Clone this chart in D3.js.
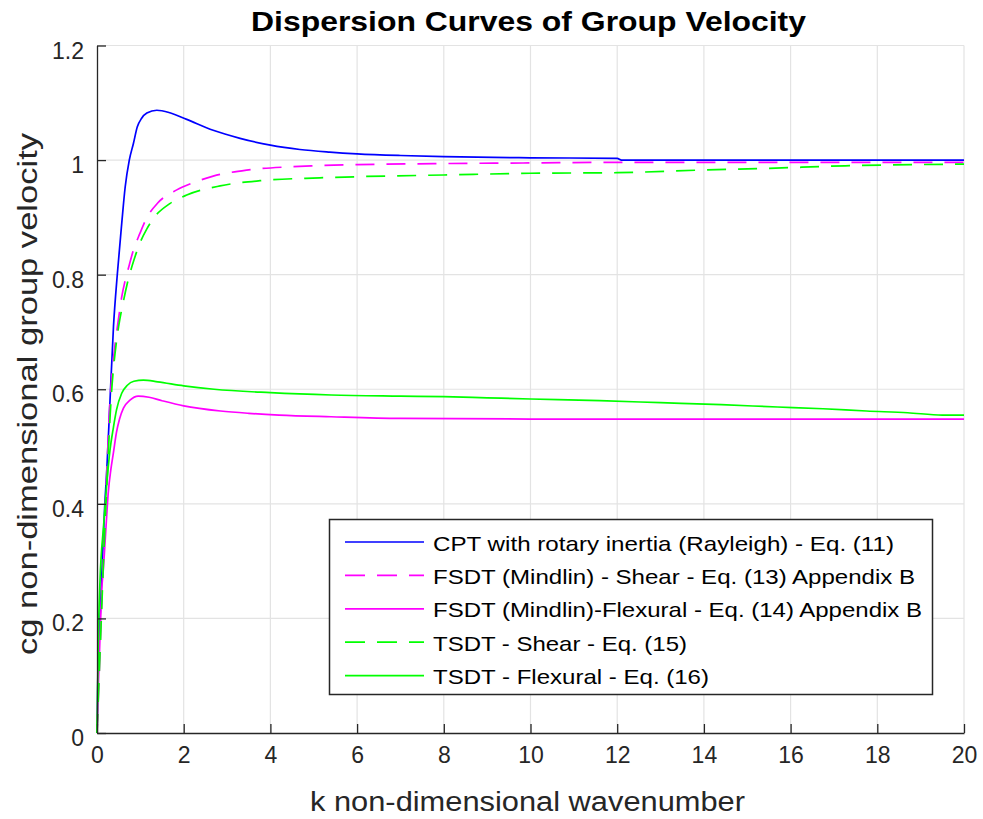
<!DOCTYPE html>
<html><head><meta charset="utf-8">
<script src="https://cdn.jsdelivr.net/npm/d3@7"></script>
<style>body{margin:0;background:#fff;} text{font-family:"Liberation Sans",Arial,Helvetica,sans-serif;}</style>
</head><body>
<svg id="chart" width="983" height="819"></svg>
<script>
const xTicks = [0,2,4,6,8,10,12,14,16,18,20];
const yTicks = [0,0.2,0.4,0.6,0.8,1,1.2];
const yTickLabels = ["0","0.2","0.4","0.6","0.8","1","1.2"];

const cptK = [0,0.01,0.02,0.07,0.11,0.18,0.22,0.3,0.38,0.47,0.57,0.65,0.745,0.84,0.93,1.03,1.15,1.38,1.68,2.07,2.68,3.3,4.0,4.68,5.37,6,7,8,10,12,12.1,20];
const cptV = [0,0.04,0.1,0.2,0.275,0.4,0.45,0.58,0.709,0.802,0.889,0.953,1.0,1.029,1.058,1.073,1.082,1.087,1.0826,1.071,1.052,1.038,1.026,1.0185,1.014,1.011,1.008,1.006,1.004,1.003,1.0,1.0];

const fsdtShearK = [0,0.05,0.1,0.15,0.2,0.25,0.3,0.35,0.42,0.5,0.57,0.65,0.745,0.84,0.99,1.14,1.4,1.84,2.2,2.68,3.45,4.38,5,6,8,10,12,20];
const fsdtShearV = [0,0.1,0.21,0.31,0.41,0.5,0.58,0.63,0.68,0.725,0.761,0.79,0.817,0.843,0.872,0.898,0.925,0.948,0.96,0.972,0.9825,0.988,0.99,0.992,0.994,0.995,0.996,0.996];

const fsdtFlexK = [0,0.03,0.07,0.11,0.15,0.2,0.26,0.32,0.38,0.45,0.52,0.61,0.76,0.95,1.2,1.5,2,2.85,3.5,4.2,5.4,7,10,20];
const fsdtFlexV = [0,0.08,0.17,0.25,0.29,0.35,0.42,0.46,0.49,0.525,0.548,0.567,0.581,0.588,0.586,0.58,0.571,0.562,0.558,0.555,0.552,0.549,0.548,0.548];

const tsdtShearK = [0,0.05,0.1,0.15,0.2,0.25,0.3,0.35,0.42,0.5,0.6,0.7,0.85,1.0,1.15,1.3,1.68,2.07,2.84,3.76,5.14,6,8,10,12,13.9,15.45,17.26,20];
const tsdtShearV = [0,0.1,0.2,0.3,0.39,0.47,0.55,0.61,0.665,0.71,0.75,0.785,0.825,0.857,0.88,0.898,0.924,0.939,0.955,0.964,0.969,0.971,0.974,0.977,0.978,0.9825,0.9855,0.99,0.993];

const tsdtFlexK = [0,0.01,0.03,0.07,0.15,0.22,0.3,0.38,0.45,0.57,0.7,0.85,1.07,1.4,2,2.7,4,5.4,7,8,9,10,11.6,13,14.4,15.7,16.75,17.75,18.7,19.5,20];
const tsdtFlexV = [0,0.05,0.16,0.267,0.36,0.43,0.494,0.534,0.564,0.593,0.607,0.614,0.616,0.613,0.606,0.6,0.594,0.59,0.588,0.587,0.585,0.583,0.58,0.5765,0.573,0.569,0.566,0.562,0.559,0.555,0.555];

const seriesNames = [
  "CPT with rotary inertia (Rayleigh) - Eq. (11)",
  "FSDT (Mindlin) - Shear - Eq. (13) Appendix B",
  "FSDT (Mindlin)-Flexural - Eq. (14) Appendix B",
  "TSDT - Shear - Eq. (15)",
  "TSDT - Flexural - Eq. (16)"
];
const seriesColors = ["#0000ff","#ff00ff","#ff00ff","#00ff00","#00ff00"];
const seriesDashed = [false,true,false,true,false];
const seriesK = [cptK,fsdtShearK,fsdtFlexK,tsdtShearK,tsdtFlexK];
const seriesV = [cptV,fsdtShearV,fsdtFlexV,tsdtShearV,tsdtFlexV];
const legendTextWidths = [461,482,489,254,276];

const svg = d3.select("#chart");
const L=97, R=964, T=45.5, B=733;
const x = d3.scaleLinear().domain([0,20]).range([L,R]);
const y = d3.scaleLinear().domain([0,1.2]).range([B,T]);

// grid
const grid = svg.append("g");
grid.selectAll(".gx").data(xTicks.slice(1)).enter().append("line")
  .attr("x1",d=>x(d)).attr("x2",d=>x(d)).attr("y1",T).attr("y2",B)
  .attr("stroke","#e3e3e3").attr("stroke-width",1.2);
grid.selectAll(".gy").data(yTicks.slice(1)).enter().append("line")
  .attr("x1",L).attr("x2",R).attr("y1",d=>y(d)).attr("y2",d=>y(d))
  .attr("stroke","#e3e3e3").attr("stroke-width",1.2);

// series
const line = d3.line().x(d=>x(d[0])).y(d=>y(d[1])).curve(d3.curveMonotoneX);
seriesK.forEach((ks,i)=>{
  const pts = ks.map((k,j)=>[k,seriesV[i][j]]);
  svg.append("path").datum(pts).attr("d",line).attr("fill","none")
    .attr("stroke",seriesColors[i]).attr("stroke-width",1.7)
    .attr("stroke-dasharray",seriesDashed[i]?"19,12":null);
});

// axes
const xAxis = d3.axisBottom(x).tickValues(xTicks).tickFormat(d3.format("d")).tickSizeInner(-9).tickSizeOuter(0).tickPadding(14);
const gx = svg.append("g").attr("transform",`translate(0,${B})`).call(xAxis);
const yAxis = d3.axisLeft(y).tickValues(yTicks).tickFormat((d,i)=>yTickLabels[i]).tickSizeInner(-9).tickSizeOuter(0).tickPadding(13);
const gy = svg.append("g").attr("transform",`translate(${L},0)`).call(yAxis);
[gx,gy].forEach(g=>{
  g.select(".domain").attr("stroke","#262626").attr("stroke-width",1.3);
  g.selectAll(".tick line").attr("stroke","#262626").attr("stroke-width",1.3);
  g.selectAll(".tick text").attr("fill","#262626").style("font-size","23px");
});
gy.selectAll(".tick text").attr("dy","0.85em").attr("y",-7);

// title & labels
svg.append("text").attr("x",528.5).attr("y",31).attr("text-anchor","middle")
  .style("font-size","28px").style("font-weight","bold").attr("fill","#000")
  .attr("textLength",555).attr("lengthAdjust","spacingAndGlyphs")
  .text("Dispersion Curves of Group Velocity");
svg.append("text").attr("x",527.5).attr("y",811).attr("text-anchor","middle")
  .style("font-size","27px").attr("fill","#262626")
  .attr("textLength",435).attr("lengthAdjust","spacingAndGlyphs")
  .text("k  non-dimensional wavenumber");
svg.append("text").attr("transform","translate(37,394) rotate(-90)").attr("text-anchor","middle")
  .style("font-size","27px").attr("fill","#262626")
  .attr("textLength",522).attr("lengthAdjust","spacingAndGlyphs")
  .text("cg non-dimensional group velocity");

// legend
const lg = svg.append("g");
lg.append("rect").attr("x",329.5).attr("y",519.5).attr("width",603).attr("height",175)
  .attr("fill","#fff").attr("stroke","#262626").attr("stroke-width",1.5);
seriesNames.forEach((name,i)=>{
  const base = 550.5 + i*33.4;
  const cy = base - 8.5;
  lg.append("line").attr("x1",345).attr("x2",424).attr("y1",cy).attr("y2",cy)
    .attr("stroke",seriesColors[i]).attr("stroke-width",1.7)
    .attr("stroke-dasharray",seriesDashed[i]?"20,12":null);
  lg.append("text").attr("x",433).attr("y",base).style("font-size","21px").attr("fill","#000")
    .attr("textLength",legendTextWidths[i]).attr("lengthAdjust","spacingAndGlyphs").text(name);
});
</script>
</body></html>
